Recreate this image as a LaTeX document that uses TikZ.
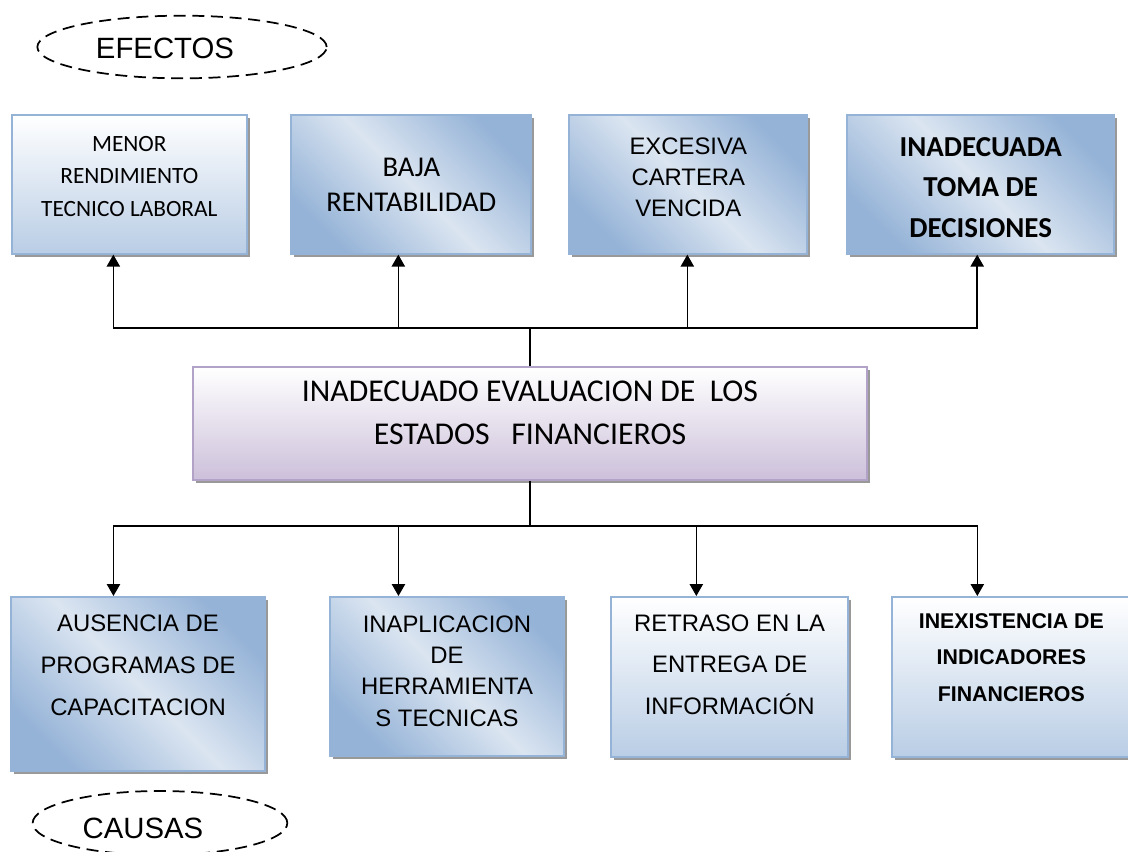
\documentclass[tikz,border=0pt]{standalone}
\usepackage{fontspec}
\setmainfont{Liberation Sans}
\newfontfamily\calibri{Carlito}
\usetikzlibrary{arrows.meta,positioning,shapes.geometric,shadows}

\definecolor{bluelight}{HTML}{DBE5F1}
\definecolor{bluedark}{HTML}{95B3D7}
\definecolor{bluebottom}{HTML}{B9CDE5}
\definecolor{bluerim}{HTML}{95B3D7}
\definecolor{lilac}{HTML}{CCC0DA}
\definecolor{lilacrim}{HTML}{B3A2C7}

\newcommand\fcal[2]{\calibri\fontsize{#1}{#2}\selectfont}
\newcommand\fari[2]{\fontsize{#1}{#2}\selectfont}

\tikzset{
  box/.style={rectangle, draw=bluerim, line width=1.5pt, inner sep=0pt,
    drop shadow={shadow xshift=2.25pt, shadow yshift=-2.25pt, fill=black!40, opacity=1}},
  vgrad/.style={box, top color=white, bottom color=bluebottom},
  dgrad/.style={box, top color=bluedark, bottom color=bluedark, middle color=bluelight, shading angle=-45},
  arr/.style={-{Triangle[width=10pt,length=9pt]}, line width=1.1pt},
  oval/.style={ellipse, draw, dash pattern=on 9pt off 5pt, line width=1.3pt, inner sep=0pt},
  txt/.style={align=center, inner sep=0pt}
}

\begin{document}
\begin{tikzpicture}[x=0.75pt,y=-0.75pt]
  \useasboundingbox (0,0) rectangle (1128,851);

  % efectos
  \node [oval, minimum width=217pt, minimum height=47pt] (efx) at (182,47) {};
  \node [txt, font=\fari{22}{26}] (efxt) at (165,48) {EFECTOS};

  \node [vgrad, minimum width=176pt, minimum height=104pt, anchor=north west] (e1) at (11,114) {};
  \node [dgrad, minimum width=180pt, minimum height=104pt] (e2) [right=32pt of e1] {};
  \node [dgrad, minimum width=178.5pt, minimum height=104pt] (e3) [right=27pt of e2] {};
  \node [dgrad, minimum width=200pt, minimum height=104pt] (e4) [right=28.5pt of e3] {};

  \node [txt, font=\fcal{17.5}{24.4}] (e1t) at ([yshift=6pt]e1) {MENOR\\RENDIMIENTO\\TECNICO LABORAL};
  \node [txt, font=\fcal{21.5}{26.3}] (e2t) at (e2) {BAJA\\RENTABILIDAD};
  \node [txt, font=\fari{17.9}{23.3}] (e3t) at ([yshift=5.6pt]e3) {EXCESIVA\\CARTERA\\VENCIDA};
  \node [txt, font=\fcal{21.7}{30.4}\bfseries] (e4t) at ([yshift=-2.2pt]e4) {INADECUADA\\TOMA DE\\DECISIONES};

  % problema central
  \node [box, draw=lilacrim, top color=white, bottom color=lilac,
         minimum width=505.5pt, minimum height=84.75pt] (ctr) at (530,423.5) {};
  \node [txt, font=\fcal{23.8}{32}] (ctrt) at ([yshift=8pt]ctr)
        {INADECUADO EVALUACION DE\ \ LOS\\ESTADOS\ \ \ FINANCIEROS};

  % causas
  \node [dgrad, minimum width=190.5pt, minimum height=130.5pt, anchor=north west] (c1) at (10,596) {};
  \node [dgrad, minimum width=176pt, minimum height=119pt] (c2) [right=47pt of c1.north east, anchor=north west] {};
  \node [vgrad, minimum width=178pt, minimum height=120pt] (c3) [right=33.5pt of c2.north east, anchor=north west] {};
  \node [vgrad, minimum width=178.5pt, minimum height=120pt] (c4) [right=31.5pt of c3.north east, anchor=north west] {};

  \node [txt, font=\fari{17.9}{31.5}] (c1t) at ([yshift=14.25pt]c1) {AUSENCIA DE\\PROGRAMAS DE\\CAPACITACION};
  \node [txt, font=\fari{17.9}{23.5}] (c2t) at ([yshift=4pt]c2) {INAPLICACION\\DE\\HERRAMIENTA\\S TECNICAS};
  \node [txt, font=\fari{17.9}{31}] (c3t) at ([yshift=9.4pt]c3) {RETRASO EN LA\\ENTREGA DE\\INFORMACIÓN};
  \node [txt, font=\fari{16}{27.4}\bfseries] (c4t) at ([yshift=14.6pt]c4) {INEXISTENCIA DE\\INDICADORES\\FINANCIEROS};

  \node [oval, minimum width=191pt, minimum height=48pt] (cau) at (160,823) {};
  \node [txt, font=\fari{22}{26}] (caut) at (143,828) {CAUSAS};

  % conexiones
  \coordinate (hubT) at ([yshift=28.5pt]ctr.north);
  \coordinate (hubB) at ([yshift=-33.75pt]ctr.south);
  \draw [line width=1.1pt] (ctr.north) -- (hubT);
  \draw [line width=1.1pt] (ctr.south) -- (hubB);
  \draw [arr] (hubT) -| ([xshift=-12pt]e1.south);
  \draw [arr] (hubT) -| ([xshift=-9.75pt]e2.south);
  \draw [arr] (hubT) -| ([xshift=-0.75pt]e3.south);
  \draw [arr] (hubT) -| ([xshift=-2.6pt]e4.south);
  \draw [arr] (hubB) -| ([xshift=-18.4pt]c1.north);
  \draw [arr] (hubB) -| ([xshift=-36.4pt]c2.north);
  \draw [arr] (hubB) -| ([xshift=-25pt]c3.north);
  \draw [arr] (hubB) -| ([xshift=-25.5pt]c4.north);
\end{tikzpicture}
\end{document}
